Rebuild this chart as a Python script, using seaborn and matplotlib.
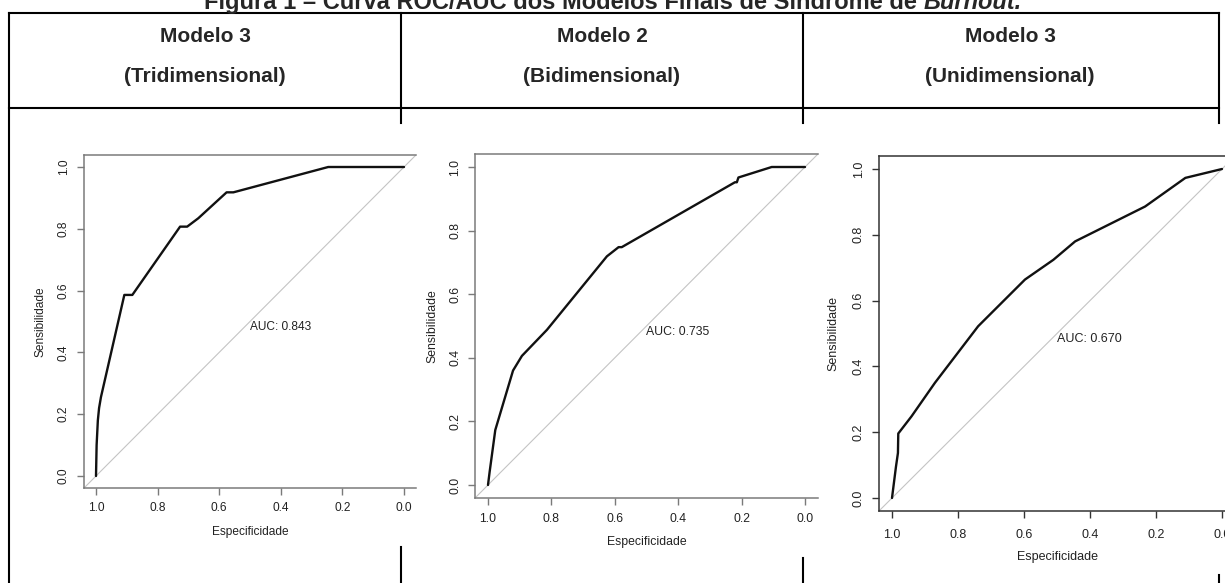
import matplotlib
matplotlib.use('Agg')
import matplotlib.pyplot as plt
from matplotlib.lines import Line2D
import seaborn as sns
import pandas as pd

W, H = 1225, 583

TITLE_MAIN = "Figura 1 – Curva ROC/AUC dos Modelos Finais de Síndrome de "
TITLE_ITALIC = "Burnout."
HEAD_TOP = ["Modelo 3", "Modelo 2", "Modelo 3"]
HEAD_BOTTOM = ["(Tridimensional)", "(Bidimensional)", "(Unidimensional)"]
AUC_LABELS = ["AUC: 0.843", "AUC: 0.735", "AUC: 0.670"]
TICKS = [1.0, 0.8, 0.6, 0.4, 0.2, 0.0]

# ROC points (specificity, sensitivity)
spec_tri = [1.0, 0.998, 0.994, 0.990, 0.984, 0.908, 0.882, 0.727, 0.704, 0.668, 0.576, 0.554, 0.246, 0.0]
sens_tri = [0.0, 0.10, 0.18, 0.22, 0.255, 0.586, 0.586, 0.807, 0.807, 0.834, 0.918, 0.918, 1.0, 1.0]

spec_bi = [1.0, 0.995, 0.977, 0.921, 0.893, 0.814, 0.625, 0.588, 0.578, 0.221, 0.215, 0.210, 0.105, 0.0]
sens_bi = [0.0, 0.04, 0.173, 0.36, 0.406, 0.488, 0.719, 0.748, 0.748, 0.952, 0.952, 0.967, 1.0, 1.0]

spec_uni = [1.0, 0.988, 0.982, 0.981, 0.941, 0.870, 0.739, 0.597, 0.511, 0.445, 0.233, 0.111, 0.0]
sens_uni = [0.0, 0.095, 0.137, 0.196, 0.248, 0.350, 0.522, 0.664, 0.724, 0.780, 0.886, 0.973, 1.0]

sns.set_style("white")
plt.rcParams['font.family'] = ['Liberation Sans', 'DejaVu Sans']
plt.rcParams['xtick.bottom'] = True
plt.rcParams['ytick.left'] = True

fig = plt.figure(figsize=(W / 100, H / 100), dpi=100, facecolor='white')


def fx(px):
    return px / W


def fy(py):
    return 1 - py / H


def seg(x0, y0, x1, y1):
    fig.add_artist(Line2D([fx(x0), fx(x1)], [fy(y0), fy(y1)], transform=fig.transFigure,
                          color='black', lw=1.5, solid_capstyle='projecting'))


# table grid (only the parts not hidden by the plot images)
seg(8.5, 13, 1218.5, 13)
seg(8.5, 108, 1218.5, 108)
seg(8.5, 13, 8.5, 583)
seg(401, 13, 401, 123)
seg(401, 547, 401, 583)
seg(803, 13, 803, 123)
seg(803, 558, 803, 583)
seg(1218.5, 13, 1218.5, 123)
seg(1218.5, 575, 1218.5, 583)

# header texts
col_centers = [205, 602, 1010]
for cx, top, bot in zip(col_centers, HEAD_TOP, HEAD_BOTTOM):
    fig.text(fx(cx), fy(36), top, ha='center', va='center', fontsize=15, fontweight='bold')
    fig.text(fx(cx), fy(76), bot, ha='center', va='center', fontsize=15, fontweight='bold')

# title, cut off at the top edge
t1 = fig.text(0, fy(9), TITLE_MAIN, ha='left', va='baseline', fontsize=17, fontweight='bold')
t2 = fig.text(0, fy(9), TITLE_ITALIC, ha='left', va='baseline', fontsize=17,
              fontweight='bold', fontstyle='italic')
fig.canvas.draw()
r = fig.canvas.get_renderer()
w1 = t1.get_window_extent(r).width
w2 = t2.get_window_extent(r).width
start = 613 - (w1 + w2) / 2
t1.set_x(fx(start))
t2.set_x(fx(start + w1))

# panels: pixel position of tick 1.0 / 0.0 on each axis
panels = [
    dict(spec=spec_tri, sens=sens_tri, x1=96, x0=404, y1=167, y0=476, fs=8.6, spine='#7a7a7a',
         xlab_y=532, ylab_x=40, xpad=5),
    dict(spec=spec_bi, sens=sens_bi, x1=488, x0=805, y1=167, y0=485, fs=8.8, spine='#7a7a7a',
         xlab_y=542, ylab_x=432, xpad=6),
    dict(spec=spec_uni, sens=sens_uni, x1=892, x0=1222, y1=169, y0=498, fs=9.0, spine='#333333',
         xlab_y=557, ylab_x=833, xpad=8),
]

for p, auc in zip(panels, AUC_LABELS):
    sx = p['x0'] - p['x1']
    sy = p['y0'] - p['y1']
    left = p['x1'] - 0.04 * sx
    right = p['x0'] + 0.04 * sx
    top = p['y1'] - 0.04 * sy
    bottom = p['y0'] + 0.04 * sy
    ax = fig.add_axes([fx(left), fy(bottom), (right - left) / W, (bottom - top) / H])
    ax.set_xlim(1.04, -0.04)
    ax.set_ylim(-0.04, 1.04)

    ax.axline((1, 0), (0, 1), color='#c4c4c4', lw=0.8, zorder=1)
    df = pd.DataFrame({'Especificidade': p['spec'], 'Sensibilidade': p['sens']})
    sns.lineplot(data=df, x='Especificidade', y='Sensibilidade', sort=False, estimator=None,
                 color='#111111', lw=1.7, ax=ax, zorder=3)

    ax.set_xticks(TICKS)
    ax.set_yticks(TICKS)
    ax.set_xticklabels([f"{t:.1f}" for t in TICKS])
    ax.set_yticklabels([f"{t:.1f}" for t in TICKS], rotation=90, va='center')
    ax.tick_params(axis='both', direction='out', length=5, width=1.0, color=p['spine'],
                   labelsize=p['fs'], labelcolor='#222222', bottom=True, left=True)
    ax.tick_params(axis='x', pad=p['xpad'])
    ax.tick_params(axis='y', pad=5)
    for side in ['left', 'top', 'bottom']:
        ax.spines[side].set_color(p['spine'])
        ax.spines[side].set_linewidth(1.1)
    ax.spines['right'].set_visible(False)

    ax.set_xlabel('Especificidade', fontsize=p['fs'], color='#222222')
    ax.set_ylabel('Sensibilidade', fontsize=p['fs'], color='#222222')
    ax.xaxis.label.set_va('center')
    ax.yaxis.label.set_va('center')
    ax.xaxis.set_label_coords(0.5, (bottom - p['xlab_y']) / (bottom - top))
    ax.yaxis.set_label_coords((p['ylab_x'] - left) / (right - left), 0.5)

    ax.text(0.5, 0.5, auc, ha='left', va='top', fontsize=p['fs'], color='#222222')

fig.savefig('out.png', dpi=100, facecolor='white')
